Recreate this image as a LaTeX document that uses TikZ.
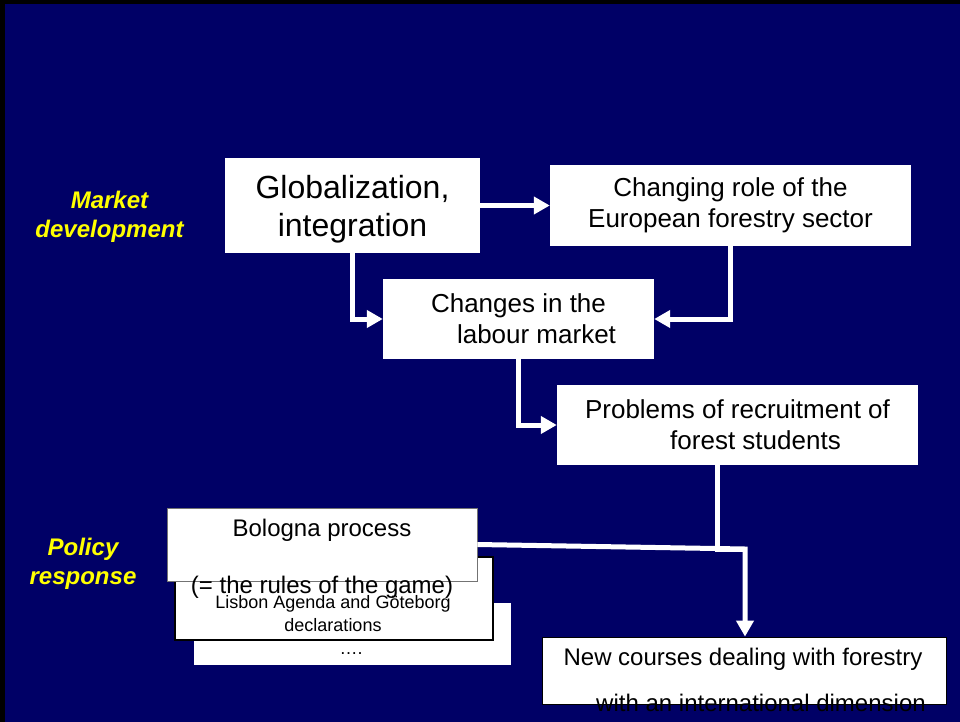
\documentclass[tikz,border=0pt]{standalone}
\usepackage{fontspec}
\setmainfont{Liberation Sans}
\usetikzlibrary{arrows.meta}

\definecolor{slidenavy}{RGB}{0,0,102}
\definecolor{slideyellow}{RGB}{255,255,0}

\tikzset{
  box/.style={fill=white, inner sep=0pt, align=center, text=black},
  bigtext/.style={font=\fontsize{26}{31}\selectfont},
  midtext/.style={font=\fontsize{24}{29}\selectfont},
  smalltext/.style={font=\fontsize{18}{23}\selectfont},
  side/.style={text=slideyellow, align=center,
    font=\fontsize{24}{28.5}\selectfont\bfseries\itshape},
  link/.style={white, line width=5pt},
  flow/.style={link, -{Triangle[length=16pt,width=17pt]}}
}

\begin{document}
\begin{tikzpicture}[x=1pt,y=-1pt]
% slide background
\fill[black] (0,0) rectangle (960,722);
\fill[slidenavy] (5,4) rectangle (960,722);

% left hand labels
\node[side] (market) at (109.5,217) {Market\\development};
\node[side] (policy) at (83,564) {Policy\\response};

% market chain
\node[box, minimum width=255pt, minimum height=95pt] (glob) at (352.5,205.5) {};
\node[align=center, font=\fontsize{32}{38}\selectfont] (glob text)
  at ([yshift=-4pt]glob.center) {Globalization,\\integration};
\node[box, bigtext, minimum width=361pt, minimum height=81pt] (role) at (730.5,205.5)
  {Changing role of the\\European forestry sector};
\node[box, bigtext, minimum width=271pt, minimum height=80pt] (labour) at (518.5,319)
  {Changes in the\\\hspace*{36pt}labour market};
\node[box, bigtext, minimum width=361pt, minimum height=80pt] (recruit) at (737.5,425)
  {Problems of recruitment of\\\hspace*{36pt}forest students};

% policy stack, back to front
\node[box, minimum width=317pt, minimum height=62pt] (dots) at (352.5,634) {};
\node[box, draw=black, line width=1.5pt, minimum width=318pt, minimum height=83pt]
  (lisbon) at (334,598.5) {};
\node[smalltext, align=center] (lisbon text) at (333,625)
  {Lisbon Agenda and Göteborg\\declarations\\\hspace*{36pt}….};
\node[box, draw=black!55, line width=0.8pt, minimum width=310pt, minimum height=73pt]
  (bologna) at (322,544.5) {};
\node[midtext, align=center] (bologna text) at (322,559)
  {Bologna process\\[28pt](= the rules of the game)};

% outcome
\node[box, draw=black, line width=0.8pt, minimum width=404pt, minimum height=67pt]
  (newc) at (744,670.5) {};
\node[midtext, align=center] (newc text) at (743,680)
  {New courses dealing with forestry\\[17pt]\hspace*{36pt}with an international dimension};

% connectors
\coordinate (merge) at (745,549);
\draw[flow] (glob) -- (role);
\draw[flow] (glob.south) |- (labour.west);
\draw[flow] (role.south) |- (labour.east);
\draw[flow] (labour.south) |- (recruit.west);
\draw[link] ([xshift=-20pt]recruit.south) |- (merge);
\draw[flow] (bologna.east) -- (merge) -- (merge |- newc.north);
\end{tikzpicture}
\end{document}
